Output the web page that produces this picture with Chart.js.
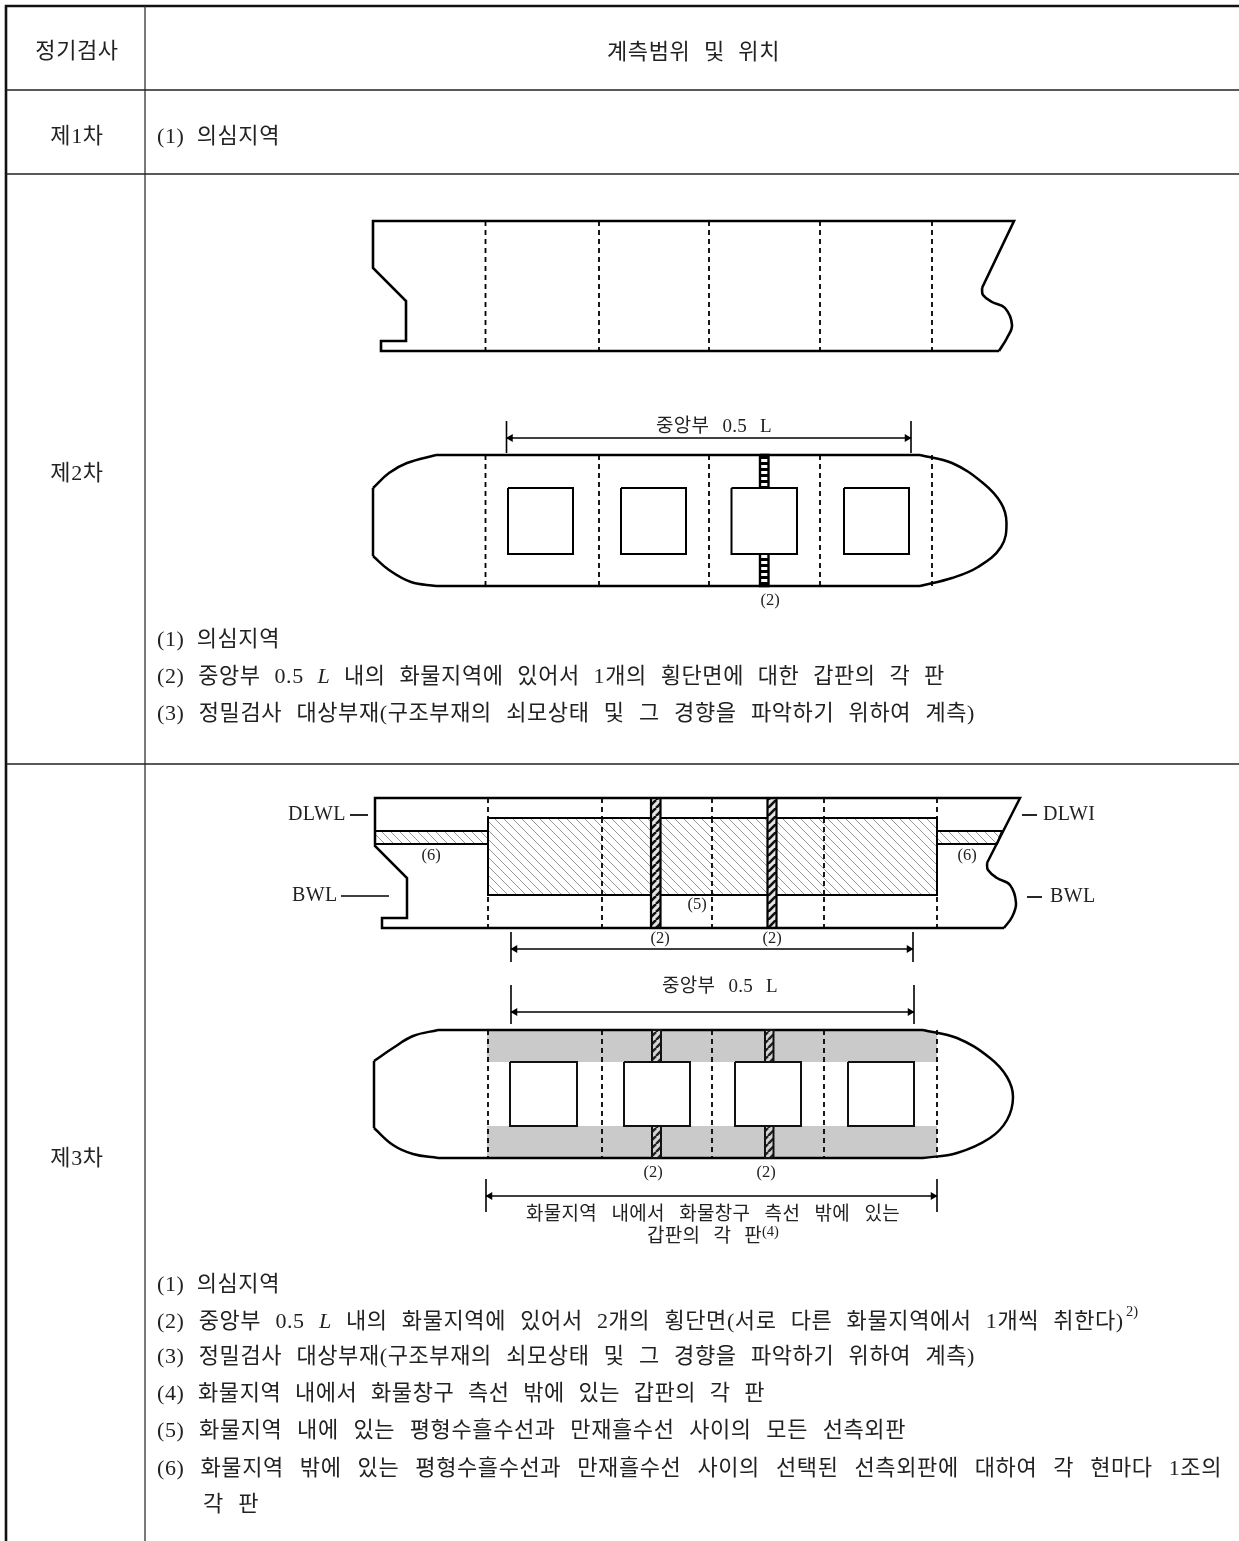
<!DOCTYPE html>
<html>
<head>
<meta charset="utf-8">
<style>
  html, body { margin: 0; padding: 0; background: #fff; }
  canvas { display: block; }
</style>
<script src="https://cdn.jsdelivr.net/npm/chart.js@4"></script>
</head>
<body>
<canvas id="myChart" width="1239" height="1541"></canvas>
<script>
"use strict";
// table frame
var frameX = [6, 6, 1239];
var frameY = [1541, 6, 6];
var ruleY = [90, 174, 764];
var columnX = 145;

// survey 2 hull, side view
var hull1X = [982, 1014, 373, 373, 406, 406, 381, 381, 999];
var hull1Y = [288, 221, 221, 268, 301, 341, 341, 351, 351];
var bow1X = [982, 983, 992, 1005, 1012, 1007, 999];
var bow1Y = [288, 295, 302, 308, 325, 338, 351];
var frames2X = [485.5, 599, 709, 820, 932];

// survey 2 hull, plan view
var deck2X = [436, 920, 920, 436];
var deck2Y = [455, 455, 586, 586];
var stern2TopX = [373, 389, 407, 436];
var stern2TopY = [488, 473, 463, 455];
var stern2BotX = [373, 389, 411, 436];
var stern2BotY = [556, 570, 582, 586];
var stern2X = [373, 373];
var stern2Y = [488, 556];
var bow2X = [920, 952, 983, 1001, 1006.5, 1001, 978, 952, 920];
var bow2Y = [455, 463, 483, 503, 523, 547, 567, 578, 586];
var hatch2Left = [508, 621, 731.5, 844];
var hatch2Right = [573, 686, 797, 909];
var hatch2Top = 488, hatch2Bottom = 554;
var ladderX = [760, 768.5];

// survey 3 hull, side view
var hull3X = [987, 1020, 375, 375, 407, 407, 382, 382, 1004];
var hull3Y = [863, 798, 798, 846, 878, 918, 918, 928, 928];
var bow3X = [987, 988, 997, 1010, 1016, 1012, 1004];
var bow3Y = [863, 870, 878, 885, 903, 917, 928];
var frames3X = [488, 602, 712, 824, 937];
var shellX = [488, 937, 937, 488];
var shellY = [818, 818, 895, 895];
var endLeftX = [375, 488, 488, 375];
var endRightX = [937, 1002, 997, 937];
var endY = [831, 831, 844, 844];
var sectionLeft = [651, 767.5];
var sectionRight = [660.5, 776.5];

// survey 3 hull, plan view
var deck4X = [438, 923, 923, 438];
var deck4Y = [1030, 1030, 1158, 1158];
var stern4TopX = [374, 393, 413, 438];
var stern4TopY = [1061, 1048, 1036, 1030];
var stern4BotX = [374, 393, 413, 438];
var stern4BotY = [1128, 1145, 1154, 1158];
var stern4X = [374, 374];
var stern4Y = [1061, 1128];
var bow4X = [923, 957, 990, 1007, 1013, 1007, 990, 957, 923];
var bow4Y = [1030, 1038, 1058, 1077, 1097, 1120, 1138, 1153, 1158];
var bandX = [487, 937];
var bandTopY = [1031, 1062];
var bandBotY = [1126, 1157];
var hatch4Left = [510, 624, 735, 848];
var hatch4Right = [577, 690, 801, 914];
var hatch4Top = 1062, hatch4Bottom = 1126;
var strip4Left = [652, 765];
var strip4Right = [661, 773.5];

// dimension lines: left end, right end, level, tick top, tick bottom
var dimLeft = [506.5, 511, 511, 486];
var dimRight = [911, 913, 914, 937];
var dimY = [438, 949, 1012, 1196];
var dimTop = [421, 932, 985, 1179];
var dimBottom = [453, 962, 1024, 1212];

// waterline leader strokes
var leaderLeft = [350, 341, 1022, 1027];
var leaderRight = [368, 389, 1037, 1042];
var leaderY = [815, 896, 815, 897];

// texts
var headTexts = ["정기검사", "제1차", "제2차", "제3차"];
var headY = [52, 137, 474, 1159];
var titleText = "계측범위 및 위치";
var bodyTexts = [
  "(1) 의심지역",
  "(1) 의심지역",
  "(2) 중앙부 0.5 L 내의 화물지역에 있어서 1개의 횡단면에 대한 갑판의 각 판",
  "(3) 정밀검사 대상부재(구조부재의 쇠모상태 및 그 경향을 파악하기 위하여 계측)",
  "(1) 의심지역",
  "(2) 중앙부 0.5 L 내의 화물지역에 있어서 2개의 횡단면(서로 다른 화물지역에서 1개씩 취한다)",
  "(3) 정밀검사 대상부재(구조부재의 쇠모상태 및 그 경향을 파악하기 위하여 계측)",
  "(4) 화물지역 내에서 화물창구 측선 밖에 있는 갑판의 각 판",
  "(5) 화물지역 내에 있는 평형수흘수선과 만재흘수선 사이의 모든 선측외판",
  "(6) 화물지역 밖에 있는 평형수흘수선과 만재흘수선 사이의 선택된 선측외판에 대하여 각 현마다 1조의",
  "각 판"
];
var bodyStart = [157, 157, 157, 157, 157, 157, 157, 157, 157, 157, 203];
var bodyEnd = [280, 280, 946, 975, 280, 1125, 975, 765, 906, 1222, 259];
var bodyY = [137, 640, 677, 714, 1285, 1322, 1357, 1394, 1431, 1469, 1505];
var dimTexts = ["중앙부 0.5 L", "중앙부 0.5 L"];
var dimTextStart = [656, 662];
var dimTextEnd = [772, 778];
var dimTextY = [427, 987];
var cargoTexts = ["화물지역 내에서 화물창구 측선 밖에 있는", "갑판의 각 판"];
var cargoStart = [526, 647];
var cargoEnd = [900, 762];
var cargoY = [1215, 1237];
var noteTexts = ["(2)", "(6)", "(6)", "(5)", "(2)", "(2)", "(2)", "(2)"];
var noteX = [770, 431, 967, 697, 660, 772, 653, 766];
var noteY = [601, 856, 856, 905, 939, 939, 1173, 1173];
var waterTexts = ["DLWL", "BWL", "DLWI", "BWL"];
var waterX = [288, 292, 1043, 1050];
var waterY = [815, 896, 815, 897];
var superTexts = ["(4)", "2)"];
var superX = [762, 1126];
var superY = [1232, 1312];

var KOREAN = '"Liberation Serif", "Noto Sans CJK KR"';

function pts(xs, ys) {
  return xs.map(function (x, i) { return { x: x, y: ys[i] }; });
}

function hatchTile(size, lineColor, lineWidth, forward, background) {
  var c = document.createElement("canvas");
  c.width = size;
  c.height = size;
  var g = c.getContext("2d");
  g.fillStyle = background;
  g.fillRect(0, 0, size, size);
  g.strokeStyle = lineColor;
  g.lineWidth = lineWidth;
  for (var k = -1; k <= 1; k++) {
    g.beginPath();
    if (forward) {
      g.moveTo(k * size, size);
      g.lineTo(k * size + size, 0);
    } else {
      g.moveTo(k * size, 0);
      g.lineTo(k * size + size, size);
    }
    g.stroke();
  }
  return g.createPattern(c, "repeat");
}

function rungTile() {
  var c = document.createElement("canvas");
  c.width = 4;
  c.height = 6;
  var g = c.getContext("2d");
  g.fillStyle = "#fff";
  g.fillRect(0, 0, 4, 6);
  g.fillStyle = "#000";
  g.fillRect(0, 0, 4, 3);
  return g.createPattern(c, "repeat");
}

var shellHatch = hatchTile(9, "#8a8a8a", 0.9, false, "#fff");
var sectionHatch = hatchTile(8, "#111", 2.6, true, "#e4e4e4");
var stripHatch = hatchTile(8, "#222", 2.4, true, "#d4d4d4");
var rungs = rungTile();

var datasets = [];
function line(xs, ys, width, color) {
  datasets.push({ data: pts(xs, ys), borderColor: color || "#000", borderWidth: width, pointRadius: 0, showLine: true });
}
function curve(xs, ys, width) {
  datasets.push({ data: pts(xs, ys), borderColor: "#000", borderWidth: width, pointRadius: 0, showLine: true, tension: 0.4 });
}
function dashed(xs, y0, y1) {
  xs.forEach(function (x) {
    datasets.push({ data: pts([x, x], [y0, y1]), borderColor: "#000", borderWidth: 1.8, borderDash: [5, 4], pointRadius: 0, showLine: true });
  });
}
function box(xs, ys, fill, edge, width) {
  var closedX = xs.concat(xs[0]);
  var closedY = ys.concat(ys[0]);
  datasets.push({ data: pts(closedX, closedY), borderColor: edge, borderWidth: width, backgroundColor: fill, fill: "shape", pointRadius: 0, showLine: true });
}
function rect(x0, x1, y0, y1, fill, edge, width) {
  box([x0, x1, x1, x0], [y0, y0, y1, y1], fill, edge, width);
}

// frame
line(frameX, frameY, 2.6, "#111");
line([columnX, columnX], [6, 1541], 1.3, "#333");
ruleY.forEach(function (y) { line([6, 1239], [y, y], 1.3, "#222"); });

// survey 2, side view
dashed(frames2X, 221, 351);
line(hull1X, hull1Y, 2.6);
curve(bow1X, bow1Y, 2.6);

// survey 2, plan view
dashed(frames2X, 455, 586);
line(deck2X.slice(0, 2), deck2Y.slice(0, 2), 2.5);
line(deck2X.slice(2), deck2Y.slice(2), 2.5);
curve(stern2TopX, stern2TopY, 2.5);
curve(stern2BotX, stern2BotY, 2.5);
line(stern2X, stern2Y, 2.5);
curve(bow2X, bow2Y, 2.5);
rect(ladderX[0], ladderX[1], 455, 586, rungs, "#000", 2.4);
hatch2Left.forEach(function (x, i) {
  rect(x, hatch2Right[i], hatch2Top, hatch2Bottom, "#fff", "#000", 2);
});

// survey 3, side view
dashed(frames3X, 798, 928);
rect(shellX[0], shellX[1], shellY[0], shellY[2], shellHatch, "#000", 2);
box(endLeftX, endY, shellHatch, "#000", 2);
box(endRightX, endY, shellHatch, "#000", 2);
dashed(frames3X.slice(1, 4), 818, 895);
sectionLeft.forEach(function (x, i) {
  rect(x, sectionRight[i], 798, 928, sectionHatch, "#000", 2.2);
});
line(hull3X, hull3Y, 2.5);
curve(bow3X, bow3Y, 2.5);

// survey 3, plan view
rect(bandX[0], bandX[1], bandTopY[0], bandTopY[1], "#cacaca", "#cacaca", 0);
rect(bandX[0], bandX[1], bandBotY[0], bandBotY[1], "#cacaca", "#cacaca", 0);
dashed(frames3X, 1030, 1158);
line(deck4X.slice(0, 2), deck4Y.slice(0, 2), 2.5);
line(deck4X.slice(2), deck4Y.slice(2), 2.5);
curve(stern4TopX, stern4TopY, 2.5);
curve(stern4BotX, stern4BotY, 2.5);
line(stern4X, stern4Y, 2.5);
curve(bow4X, bow4Y, 2.5);
strip4Left.forEach(function (x, i) {
  rect(x, strip4Right[i], 1030, 1158, stripHatch, "#111", 2);
});
hatch4Left.forEach(function (x, i) {
  rect(x, hatch4Right[i], hatch4Top, hatch4Bottom, "#fff", "#111", 2);
});

// dimension lines with arrow heads
dimLeft.forEach(function (x, i) {
  line([x, dimRight[i]], [dimY[i], dimY[i]], 1.4);
  line([x, x], [dimTop[i], dimBottom[i]], 1.6);
  line([dimRight[i], dimRight[i]], [dimTop[i], dimBottom[i]], 1.6);
  datasets.push({
    data: pts([x + 4, dimRight[i] - 4], [dimY[i], dimY[i]]),
    pointStyle: "triangle",
    pointRotation: [-90, 90],
    pointRadius: 4.5,
    pointBackgroundColor: "#000",
    pointBorderColor: "#000",
    pointBorderWidth: 0,
    showLine: false
  });
});

// waterline strokes
leaderLeft.forEach(function (x, i) {
  line([x, leaderRight[i]], [leaderY[i], leaderY[i]], 1.7);
});

// later datasets paint on top
datasets.forEach(function (d, i) { d.order = datasets.length - i; });

function fitted(ctx, text, startPx, endPx, y) {
  // stretch the word gaps so the line fills its measured width
  ctx.wordSpacing = "0px";
  var natural = ctx.measureText(text).width;
  var gaps = text.split(" ").length - 1;
  var spacing = gaps > 0 ? (endPx - startPx - natural) / gaps : 0;
  var space = ctx.measureText(" ").width + spacing;
  var parts = text.split(" L ");
  var base = ctx.font;
  var x = startPx;
  ctx.wordSpacing = spacing + "px";
  ctx.fillText(parts[0], x, y);
  if (parts.length > 1) {
    x += ctx.measureText(parts[0]).width + space;
    ctx.font = "italic " + base;
    ctx.fillText("L", x, y);
    x += ctx.measureText("L").width + space;
    ctx.font = base;
    ctx.wordSpacing = spacing + "px";
    if (parts[1]) ctx.fillText(parts[1], x, y);
  }
  ctx.wordSpacing = "0px";
}

var textPlugin = {
  id: "tableText",
  afterDatasetsDraw: function (chart) {
    var ctx = chart.ctx;
    var sx = chart.scales.x;
    var sy = chart.scales.y;
    ctx.save();
    ctx.fillStyle = "#222";
    ctx.textBaseline = "middle";

    ctx.font = "22px " + KOREAN;
    ctx.letterSpacing = "0.6px";
    ctx.textAlign = "center";
    headTexts.forEach(function (t, i) {
      ctx.fillText(t, sx.getPixelForValue(77), sy.getPixelForValue(headY[i]));
    });
    ctx.textAlign = "left";
    fitted(ctx, titleText, sx.getPixelForValue(607), sx.getPixelForValue(780), sy.getPixelForValue(53));
    bodyTexts.forEach(function (t, i) {
      fitted(ctx, t, sx.getPixelForValue(bodyStart[i]), sx.getPixelForValue(bodyEnd[i]), sy.getPixelForValue(bodyY[i]));
    });

    ctx.font = "19px " + KOREAN;
    ctx.letterSpacing = "0.3px";
    dimTexts.forEach(function (t, i) {
      fitted(ctx, t, sx.getPixelForValue(dimTextStart[i]), sx.getPixelForValue(dimTextEnd[i]), sy.getPixelForValue(dimTextY[i]));
    });
    cargoTexts.forEach(function (t, i) {
      fitted(ctx, t, sx.getPixelForValue(cargoStart[i]), sx.getPixelForValue(cargoEnd[i]), sy.getPixelForValue(cargoY[i]));
    });

    ctx.letterSpacing = "0px";
    ctx.textAlign = "center";
    ctx.font = '16.5px "Liberation Serif"';
    noteTexts.forEach(function (t, i) {
      ctx.fillText(t, sx.getPixelForValue(noteX[i]), sy.getPixelForValue(noteY[i]));
    });
    ctx.textAlign = "left";
    ctx.font = '20px "Liberation Serif"';
    ctx.letterSpacing = "0.4px";
    waterTexts.forEach(function (t, i) {
      ctx.fillText(t, sx.getPixelForValue(waterX[i]), sy.getPixelForValue(waterY[i]));
    });
    ctx.letterSpacing = "0px";
    ctx.font = '14.5px "Liberation Serif"';
    superTexts.forEach(function (t, i) {
      ctx.fillText(t, sx.getPixelForValue(superX[i]), sy.getPixelForValue(superY[i]));
    });
    ctx.restore();
  }
};

var myChart = new Chart(document.getElementById("myChart"), {
  type: "scatter",
  data: { datasets: datasets },
  options: {
    responsive: false,
    animation: false,
    events: [],
    layout: { padding: 0, autoPadding: false },
    plugins: { legend: { display: false }, tooltip: { enabled: false } },
    scales: {
      x: { type: "linear", min: 0, max: 1239, display: false },
      y: { type: "linear", min: 0, max: 1541, reverse: true, display: false }
    }
  },
  plugins: [textPlugin]
});
</script>
</body>
</html>
